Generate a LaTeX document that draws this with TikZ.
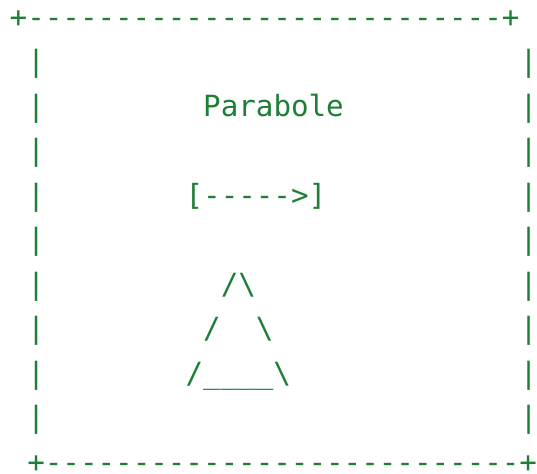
\documentclass[tikz,border=0pt]{standalone}
\usepackage{fontspec}
\setmonofont{DejaVu Sans Mono}
\definecolor{asciigreen}{RGB}{30,126,56}
\tikzset{
  glyphs/.style={anchor=base west, inner sep=0pt, outer sep=0pt, text=asciigreen,
    text depth=0pt, font=\ttfamily\fontsize{29.2pt}{31pt}\selectfont}
}
\begin{document}
\begin{tikzpicture}
\useasboundingbox (0,0) rectangle (537pt,-473pt);
\begin{scope}[shift={(9.7pt,-27.3pt)}, x=17.59pt, y=-44.5pt]
  % borders
  \node[glyphs] (top) at (0,0) {+---------------------------+};
  \node[glyphs] (bottom) at (1,10) {+---------------------------+};
  \foreach \r in {1,...,9} {
    \node[glyphs] (l\r) at (1,\r) {|};
    \node[glyphs] (r\r) at (29,\r) {|};
  }
  % contents
  \node[glyphs] (title) at (11,2) {Parabole};
  \node[glyphs] (arrow) at (10,4) {[----->]};
  \node[glyphs] (apex) at (12,6) {/\textbackslash};
  \node[glyphs] (midl) at (11,7) {/};
  \node[glyphs] (midr) at (14,7) {\textbackslash};
  \node[glyphs] (base) at (10,8) {/\_\_\_\_\textbackslash};
\end{scope}
\end{tikzpicture}
\end{document}
